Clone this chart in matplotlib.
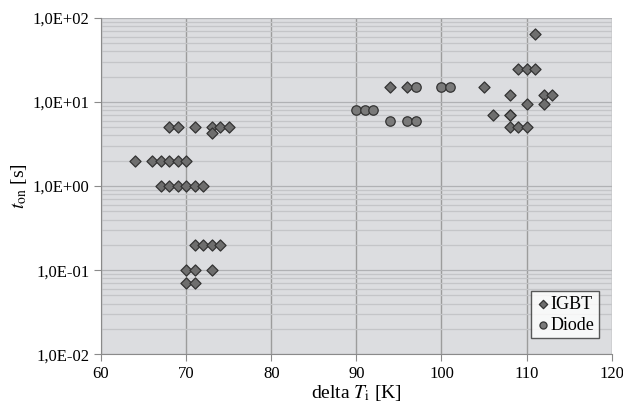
import numpy as np
import matplotlib.pyplot as plt
from matplotlib.ticker import FixedLocator, FuncFormatter, LogLocator, NullFormatter

# IGBT: delta Tj [K] and t_on [s]
igbt_dT = [68, 69, 71, 73, 74, 75, 73,
           64, 66, 67, 68, 69, 70,
           67, 68, 69, 70, 71, 72,
           71, 72, 73, 74,
           70, 71, 73,
           70, 71,
           111, 109, 110, 111,
           94, 96, 105,
           108, 112, 113,
           110, 112,
           106, 108, 108,
           108, 109, 110]
igbt_ton = [5, 5, 5, 5, 5, 5, 4.3,
            2, 2, 2, 2, 2, 2,
            1, 1, 1, 1, 1, 1,
            0.2, 0.2, 0.2, 0.2,
            0.1, 0.1, 0.1,
            0.07, 0.07,
            64, 25, 25, 25,
            15, 15, 15,
            12, 12, 12,
            9.5, 9.5,
            7, 7, 7,
            5, 5, 5]

# Diode
diode_dT = [90, 91, 92, 97, 100, 101, 94, 96, 97]
diode_ton = [8, 8, 8, 15, 15, 15, 6, 6, 6]

x_ticks = [60, 70, 80, 90, 100, 110, 120]

plt.rcParams['font.family'] = ['Liberation Serif', 'DejaVu Serif']
plt.rcParams['mathtext.fontset'] = 'stix'

fig = plt.figure(figsize=(6.23, 4.09), dpi=100)
ax = fig.add_axes([0.162, 0.134, 0.82, 0.822])
ax.set_facecolor('#dcdde0')

ax.set_yscale('log')
ax.set_xlim(60, 120)
ax.set_ylim(0.01, 100)

# grid: horizontal (major + minor), vertical major
ax.yaxis.set_major_locator(LogLocator(base=10))
ax.yaxis.set_minor_locator(LogLocator(base=10, subs=np.arange(2, 10)))
ax.yaxis.set_minor_formatter(NullFormatter())
ax.grid(True, which='major', axis='y', color='#b0b1b4', lw=0.9)
ax.grid(True, which='minor', axis='y', color='#c4c5c8', lw=0.9)
ax.xaxis.set_major_locator(FixedLocator(x_ticks))
ax.grid(True, which='major', axis='x', color='#9c9c9c', lw=1.0)
ax.set_axisbelow(True)

def fmt(v, pos):
    e = int(round(np.log10(v)))
    return '1,0E%s%02d' % ('+' if e >= 0 else '-', abs(e))

ax.yaxis.set_major_formatter(FuncFormatter(fmt))

ax.scatter(igbt_dT, igbt_ton, marker='D', s=32, c='#6e6e6e',
           edgecolors='#333333', linewidths=0.9, label='IGBT', zorder=3)
ax.scatter(diode_dT, diode_ton, marker='o', s=46, c='#7a7a7a',
           edgecolors='#333333', linewidths=0.9, label='Diode', zorder=3)

for s in ['top', 'right']:
    ax.spines[s].set_visible(False)
ax.spines['left'].set_color('#8a8a8a')
ax.spines['bottom'].set_color('#8a8a8a')
ax.tick_params(axis='both', which='major', labelsize=12, color='#8a8a8a',
               length=5, direction='out')
ax.tick_params(axis='y', which='minor', length=0)

ax.set_xlabel(r'delta $T_{\rm i}$ [K]', fontsize=14, labelpad=1)
ax.set_ylabel(r'$t_{\rm on}$ [s]', fontsize=14, labelpad=2)

leg = ax.legend(loc='lower right', bbox_to_anchor=(0.975, 0.048), fontsize=13,
                frameon=True, fancybox=False, handletextpad=0.05,
                borderpad=0.25, labelspacing=0.2, handlelength=0.8,
                borderaxespad=0, markerscale=0.75)
leg.get_frame().set_edgecolor('#333333')
leg.get_frame().set_facecolor('white')
leg.get_frame().set_linewidth(1.0)

fig.savefig('out.png', dpi=100)
